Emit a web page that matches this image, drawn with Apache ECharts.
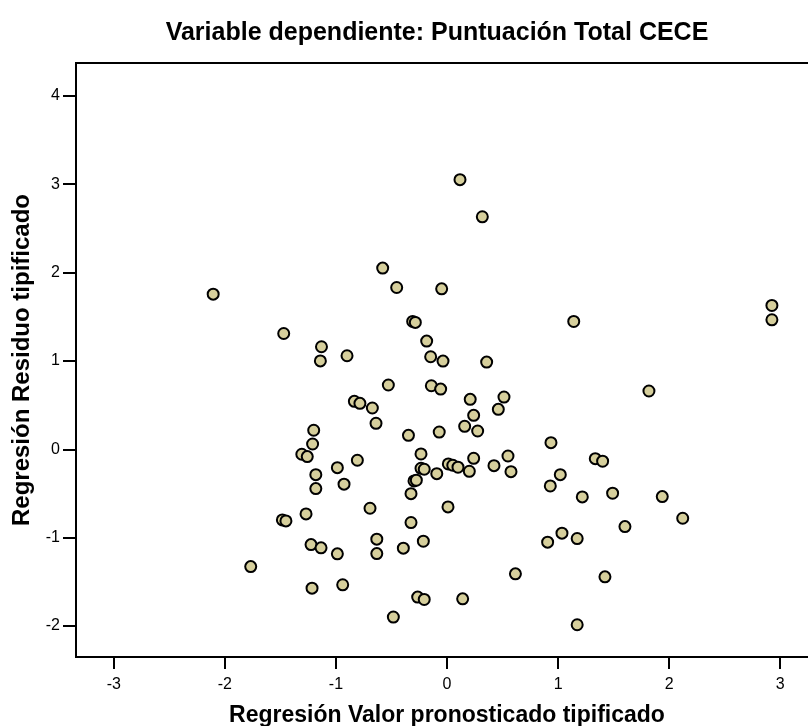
<!DOCTYPE html>
<html>
<head>
<meta charset="utf-8">
<script src="https://cdn.jsdelivr.net/npm/echarts@6/dist/echarts.min.js"></script>
<style>
html,body{margin:0;padding:0;background:#fff;}
#chart{width:808px;height:726px;}
</style>
</head>
<body>
<div id="chart"></div>
<script>
const titleText = 'Variable dependiente: Puntuación Total CECE';
const xName = 'Regresión Valor pronosticado tipificado';
const yName = 'Regresión Residuo tipificado';
const xTicks = [-3, -2, -1, 0, 1, 2, 3];
const yTicks = [-2, -1, 0, 1, 2, 3, 4];

// standardized predicted values
const predicted = [
  -2.105, -1.47, -1.13, -1.14, -1.20, -1.21, 0.117, 0.318, -0.579, -0.453,
  -0.048, -0.309, -0.285, -0.183, -0.147, -0.036, 0.357, -0.900, -0.528, -0.141,
  -0.057, -0.834, -0.784, -0.672, -0.639, 0.209, 0.513, 0.462, 0.240, 0.159,
  0.276, -0.070, -0.347, 0.936, -1.307, -1.258, -1.181, -1.181, -1.269, -1.224,
  -1.134, -0.987, -1.215, -0.939, -0.987, -0.927, -0.807, -0.693, -0.632, -0.632,
  -0.393, -0.213, -0.324, -0.324, -0.297, -0.276, -0.234, -0.234, -0.205, -0.092,
  0.009, 0.012, 0.052, 0.099, 0.201, 0.240, 0.423, 0.549, 0.576, 0.930,
  0.906, 0.616, -0.483, -0.264, -0.205, 0.141, 1.141, 2.925, 2.925, 1.818,
  1.335, 1.401, 1.020, 1.218, 1.491, 1.938, 2.122, 1.602, 1.035, 1.172,
  1.422, 1.172, -1.482, -1.450, -1.767
];
// standardized residuals
const residual = [
  1.755, 1.31, 1.16, 1.00, 0.215, 0.06, 3.05, 2.63, 2.05, 1.83,
  1.815, 1.446, 1.435, 1.224, 1.047, 0.998, 0.986, 1.058, 0.727, 0.719,
  0.681, 0.542, 0.52, 0.467, 0.294, 0.565, 0.591, 0.452, 0.384, 0.26,
  0.207, 0.195, 0.158, 0.075, -0.056, -0.083, -0.287, -0.445, -0.731, -1.078,
  -1.115, -1.183, -1.571, -1.533, -0.208, -0.395, -0.124, -0.667, -1.017, -1.18,
  -1.119, -1.04, -0.829, -0.502, -0.358, -0.35, -0.053, -0.215, -0.226, -0.276,
  -0.652, -0.166, -0.181, -0.203, -0.249, -0.102, -0.185, -0.076, -0.253, -0.415,
  -1.051, -1.409, -1.898, -1.672, -1.699, -1.692, 1.446, 1.627, 1.465, 0.659,
  -0.106, -0.135, -0.287, -0.539, -0.497, -0.535, -0.78, -0.875, -0.949, -1.01,
  -1.443, -1.985, -0.799, -0.81, -1.327
];

const points = predicted.map((x, i) => [x, residual[i]]);

const chart = echarts.init(document.getElementById('chart'), null, {renderer: 'canvas'});
const font = 'Arial, "Liberation Sans", Helvetica, sans-serif';
chart.setOption({
  animation: false,
  backgroundColor: '#ffffff',
  title: {
    text: titleText,
    left: 432,
    top: 16,
    textAlign: 'center',
    textStyle: {fontFamily: font, fontWeight: 'bold', fontSize: 25, color: '#000'}
  },
  grid: {
    left: 76, right: -10, top: 63, bottom: 69,
    containLabel: false,
    outerBoundsMode: 'none',
    show: true,
    borderColor: '#000',
    borderWidth: 2,
    backgroundColor: 'transparent'
  },
  xAxis: {
    type: 'value',
    min: -3.34, max: 3.34,
    name: xName,
    nameLocation: 'middle',
    nameGap: 47,
    nameTextStyle: {fontFamily: font, fontWeight: 'bold', fontSize: 23, color: '#000'},
    axisLine: {show: true, onZero: false, lineStyle: {color: '#000', width: 2}},
    axisTick: {show: true, length: 12, lineStyle: {color: '#000', width: 2}, customValues: xTicks},
    axisLabel: {fontFamily: font, fontSize: 16, color: '#000', margin: 20, customValues: xTicks},
    splitLine: {show: false}
  },
  yAxis: {
    type: 'value',
    min: -2.35, max: 4.37,
    name: yName,
    nameLocation: 'middle',
    nameGap: 42,
    nameTextStyle: {fontFamily: font, fontWeight: 'bold', fontSize: 24, color: '#000'},
    axisLine: {show: true, onZero: false, lineStyle: {color: '#000', width: 2}},
    axisTick: {show: true, length: 13, lineStyle: {color: '#000', width: 2}, customValues: yTicks},
    axisLabel: {fontFamily: font, fontSize: 16, color: '#000', margin: 16, customValues: yTicks},
    splitLine: {show: false}
  },
  series: [{
    type: 'scatter',
    data: points,
    symbol: 'circle',
    symbolSize: 11,
    itemStyle: {color: '#d6cf9c', borderColor: '#000', borderWidth: 2, opacity: 1},
    emphasis: {disabled: true}
  }]
});
</script>
</body>
</html>
